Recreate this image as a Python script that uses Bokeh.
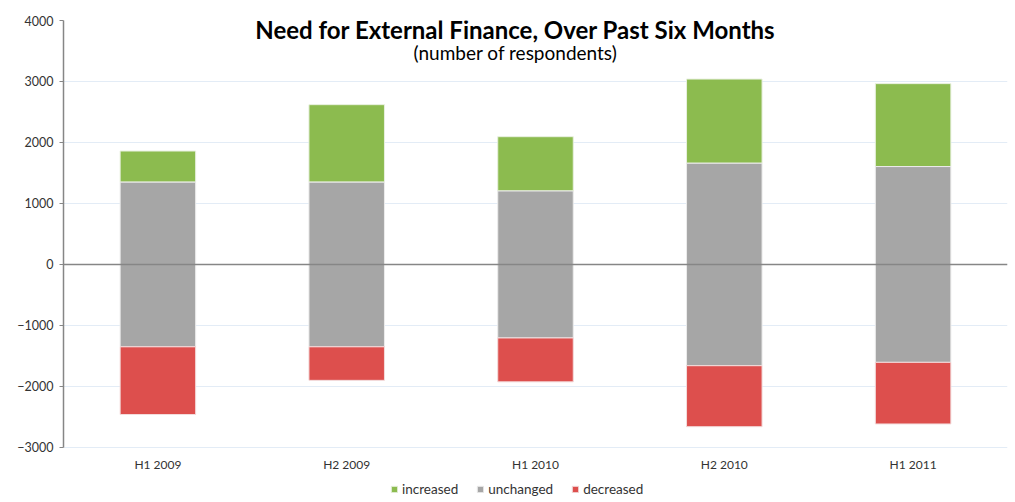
from bokeh.plotting import figure
from bokeh.models import (Legend, LegendItem, Label, LabelSet, Range1d, Span,
                          FixedTicker, ColumnDataSource)
from bokeh.core.properties import value
from bokeh.embed import file_html
from bokeh.resources import INLINE
import numpy as np

periods = ["H1 2009", "H2 2009", "H1 2010", "H2 2010", "H1 2011"]
increased = [510, 1270, 890, 1380, 1360]
unchanged = [2700, 2700, 2410, 3320, 3210]
decreased = [1110, 550, 720, 1000, 1010]
y_ticks = [-3000, -2000, -1000, 0, 1000, 2000, 3000, 4000]

title_text = "Need for External Finance, Over Past Six Months"
subtitle_text = "(number of respondents)"

FONT = "Lato"
GREEN = "#8cbb4f"
GRAY = "#a6a6a6"
RED = "#dd4f4d"

n = len(periods)
xpos = np.arange(1, n + 1)
u = np.array(unchanged, dtype=float)
inc = np.array(increased, dtype=float)
dec = np.array(decreased, dtype=float)

src = ColumnDataSource(dict(
    x=xpos, label=periods,
    u_top=u / 2, u_bot=-u / 2,
    i_top=u / 2 + inc, i_bot=u / 2,
    d_top=-u / 2, d_bot=-u / 2 - dec,
))

# the frame extends below the lowest tick to hold category labels and legend
y_lo = y_ticks[0] - 870
p = figure(x_range=Range1d(0.5, n + 0.5),
           y_range=Range1d(y_lo, y_ticks[-1]),
           width=1014, height=500,
           output_backend="svg", toolbar_location=None,
           x_axis_location=None,
           min_border_left=63, min_border_right=7, min_border_top=20,
           min_border_bottom=0)
p.outline_line_color = None
p.background_fill_color = "white"
p.border_fill_color = "white"

bw = 0.40
r_i = p.vbar(x="x", top="i_top", bottom="i_bot", width=bw, source=src,
             fill_color=GREEN, line_color="#e8f0df", line_width=1)
r_u = p.vbar(x="x", top="u_top", bottom="u_bot", width=bw, source=src,
             fill_color=GRAY, line_color="#ececec", line_width=1)
r_d = p.vbar(x="x", top="d_top", bottom="d_bot", width=bw, source=src,
             fill_color=RED, line_color="#f3dcdc", line_width=1)

# y axis
yax = p.yaxis[0]
yax.ticker = FixedTicker(ticks=y_ticks)
yax.bounds = (y_ticks[0], y_ticks[-1])
yax.axis_line_color = "#868686"
yax.axis_line_width = 1.5
yax.major_tick_line_color = "#868686"
yax.major_tick_out = 4
yax.major_tick_in = 0
yax.minor_tick_line_color = None
yax.major_label_text_font = FONT
yax.major_label_text_font_size = "12.5px"
yax.major_label_text_color = "#333333"
yax.major_label_standoff = 6

p.xgrid.grid_line_color = None
p.ygrid.ticker = FixedTicker(ticks=y_ticks)
p.ygrid.grid_line_color = "#e3ecf6"
p.ygrid.grid_line_width = 1

# zero line
p.add_layout(Span(location=0, dimension="width", line_color="#868686", line_width=1.5))

# category labels under the lowest gridline
p.add_layout(LabelSet(x="x", y=y_ticks[0], text="label", source=src,
                      y_offset=-17, text_align="center", text_baseline="middle",
                      text_font=value(FONT), text_font_size=value("12px"),
                      text_color="#333333"))

legend = Legend(items=[LegendItem(label="increased", renderers=[r_i]),
                       LegendItem(label="unchanged", renderers=[r_u]),
                       LegendItem(label="decreased", renderers=[r_d])],
                orientation="horizontal", location=(327, 3),
                glyph_width=8, glyph_height=8, label_standoff=4,
                spacing=18, padding=2, margin=0,
                label_text_font=FONT, label_text_font_size="13.5px",
                label_text_color="#333333",
                border_line_color=None, background_fill_alpha=0)
p.add_layout(legend)

p.add_layout(Label(x=452, y=471, x_units="screen", y_units="screen",
                   text=title_text, text_align="center", text_baseline="middle",
                   text_font=FONT, text_font_size="24px", text_font_style="bold",
                   text_color="#000000"))
p.add_layout(Label(x=452, y=448, x_units="screen", y_units="screen",
                   text=subtitle_text, text_align="center", text_baseline="middle",
                   text_font=FONT, text_font_size="19px", text_color="#000000"))

open("out.html", "w").write(file_html(p, INLINE))
